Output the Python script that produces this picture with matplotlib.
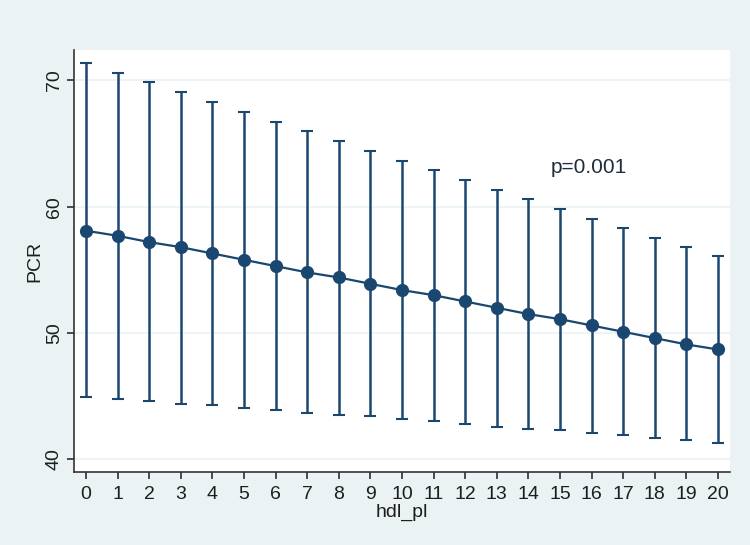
import matplotlib.pyplot as plt
from matplotlib import font_manager

# pick the regular Liberation Sans file (Arial metrics), not the narrow one
arial_like = [f.fname for f in font_manager.fontManager.ttflist
              if f.name == "Liberation Sans" and f.style == "normal"
              and f.weight in (400, "normal") and "Narrow" not in f.fname]
if arial_like:
    font_manager.fontManager.addfont(arial_like[0])
plt.rcParams['font.family'] = ['Liberation Sans', 'DejaVu Sans']

# values (adjusted predictions with 95% CI)
hdl_pl = list(range(21))
pcr_mean = [58.1, 57.7, 57.2, 56.8, 56.3, 55.8, 55.3, 54.8, 54.4, 53.9, 53.4,
            53.0, 52.5, 52.0, 51.5, 51.1, 50.6, 50.1, 49.6, 49.1, 48.7]
pcr_upper = [71.4, 70.6, 69.9, 69.1, 68.3, 67.5, 66.7, 66.0, 65.2, 64.4, 63.6,
             62.9, 62.1, 61.3, 60.6, 59.8, 59.0, 58.3, 57.5, 56.8, 56.1]
pcr_lower = [44.9, 44.8, 44.6, 44.4, 44.3, 44.1, 43.9, 43.7, 43.5, 43.4, 43.2,
             43.0, 42.8, 42.6, 42.4, 42.3, 42.1, 41.9, 41.7, 41.5, 41.3]
y_ticks = [40, 50, 60, 70]

navy = "#1a476f"
bg = "#eaf2f3"
txt = "#1e1e1e"

fig = plt.figure(figsize=(7.5, 5.45), dpi=100, facecolor=bg)
ax = fig.add_axes([0.0987, 0.134, 0.8746, 0.774])
ax.set_facecolor("white")

yerr = [[m - lo for m, lo in zip(pcr_mean, pcr_lower)],
        [hi - m for m, hi in zip(pcr_mean, pcr_upper)]]
ax.errorbar(hdl_pl, pcr_mean, yerr=yerr, fmt="none", ecolor=navy,
            elinewidth=1.8, capsize=4.5, capthick=1.5, zorder=3)
ax.plot(hdl_pl, pcr_mean, color=navy, lw=1.6, marker="o", ms=8.5, zorder=4)

ax.set_xlim(-0.38, 20.38)
ax.set_ylim(39.0, 72.4)
ax.set_xticks(hdl_pl)
ax.set_yticks(y_ticks)
ax.grid(axis="y", color=bg, lw=1.2)
ax.set_axisbelow(True)

for side in ["top", "right"]:
    ax.spines[side].set_visible(False)
for side in ["left", "bottom"]:
    ax.spines[side].set_color("#333333")
    ax.spines[side].set_linewidth(1.2)

ax.tick_params(colors=txt, labelsize=14, length=5, width=1.1)
ax.tick_params(axis="y", labelrotation=90, pad=3)
for lbl in ax.get_yticklabels():
    lbl.set_va("center")
ax.tick_params(axis="x", pad=5)
ax.set_xlabel("hdl_pl", fontsize=14, color=txt, labelpad=1)
ax.set_ylabel("PCR", fontsize=14, color=txt, labelpad=2)

ax.text(14.7, 62.7, "p=0.001", fontsize=15, color="#1e2d3c")

fig.savefig("out.png", dpi=100, facecolor=bg)
